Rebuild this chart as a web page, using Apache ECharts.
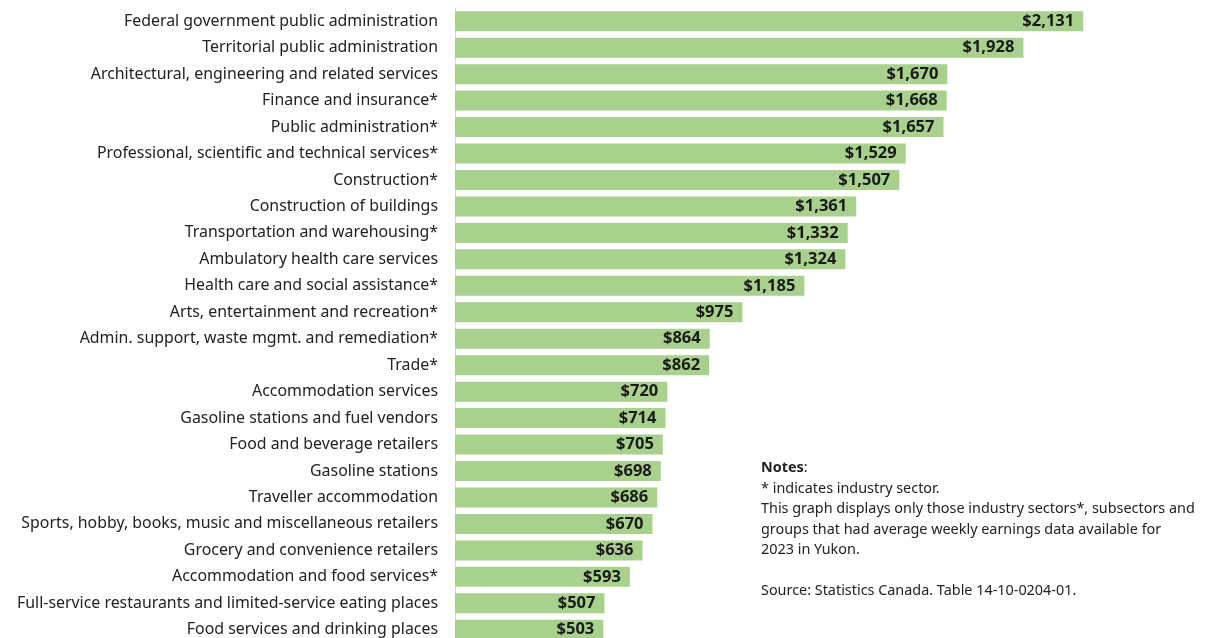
<!DOCTYPE html>
<html><head><meta charset="utf-8">
<script src="https://cdn.jsdelivr.net/npm/echarts@6/dist/echarts.min.js"></script>
<style>html,body{margin:0;padding:0;background:#fff}#c{width:1210px;height:638px}</style>
</head><body><div id="c"></div>
<script>
const categories = [
"Federal government public administration",
"Territorial public administration",
"Architectural, engineering and related services",
"Finance and insurance*",
"Public administration*",
"Professional, scientific and technical services*",
"Construction*",
"Construction of buildings",
"Transportation and warehousing*",
"Ambulatory health care services",
"Health care and social assistance*",
"Arts, entertainment and recreation*",
"Admin. support, waste mgmt. and remediation*",
"Trade*",
"Accommodation services",
"Gasoline stations and fuel vendors",
"Food and beverage retailers",
"Gasoline stations",
"Traveller accommodation",
"Sports, hobby, books, music and miscellaneous retailers",
"Grocery and convenience retailers",
"Accommodation and food services*",
"Full-service restaurants and limited-service eating places",
"Food services and drinking places"
];
const earnings = [2131,1928,1670,1668,1657,1529,1507,1361,1332,1324,1185,975,864,862,720,714,705,698,686,670,636,593,507,503];
const noteLines = [
"* indicates industry sector.",
"This graph displays only those industry sectors*, subsectors and",
"groups that had average weekly earnings data available for",
"2023 in Yukon.",
"",
"Source: Statistics Canada. Table 14-10-0204-01."
];
const FONT = '"Noto Sans"';
const chart = echarts.init(document.getElementById('c'), null, {renderer:'canvas'});
chart.setOption({
  animation:false,
  textStyle:{fontFamily:FONT},
  grid:{left:455, width:737, top:8, height:635, containLabel:false, outerBoundsMode:'none'},
  xAxis:{type:'value', min:0, max:2500, show:false},
  yAxis:{type:'category', data:categories, inverse:true,
    axisLine:{show:true, lineStyle:{color:'#d9d9d9', width:1}},
    axisTick:{show:false},
    axisLabel:{color:'#222', fontSize:15.9, fontFamily:FONT, margin:17}
  },
  series:[{type:'bar', data:earnings, barCategoryGap:'24.5%',
    itemStyle:{color:'#a9d18e'},
    label:{show:true, position:'insideRight', distance:9, color:'#1a1a1a', fontWeight:'bold', fontSize:16.5, fontFamily:FONT,
      formatter:p=>'$'+p.value.toLocaleString('en-US')}
  }],
  graphic:[{type:'text', left:761, top:458, style:{
    text:'{b|Notes}:\n'+noteLines.join('\n'),
    font:'14.4px '+FONT, fill:'#222', lineHeight:20.5,
    rich:{b:{fontWeight:'bold', fontSize:14.4, fontFamily:FONT, fill:'#222', lineHeight:20.5}}
  }}]
});
</script></body></html>
